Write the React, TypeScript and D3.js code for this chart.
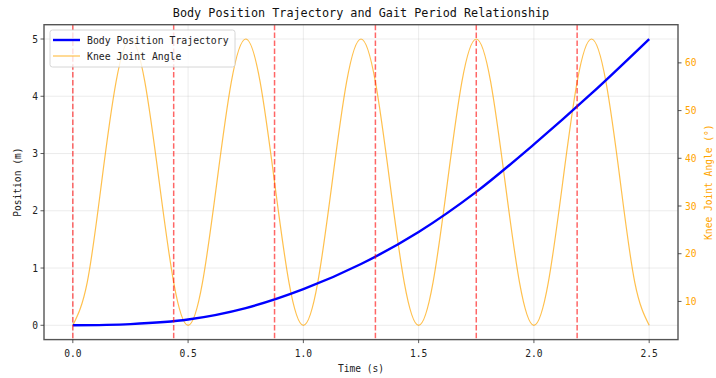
import React from "react";
import * as d3 from "d3";

// body position trajectory
const posTime = [0, 0.25, 0.5, 0.75, 1.0, 1.25, 1.5, 1.75, 2.0, 2.25, 2.5];
const position = [0, 0.02, 0.1, 0.3, 0.63, 1.07, 1.63, 2.33, 3.16, 4.05, 5.0];

// knee joint angle, sampled every 0.0625 s
const kneeAngle = [
  5, 14, 35, 56, 65, 56, 35, 14,
  5, 14, 35, 56, 65, 56, 35, 14,
  5, 14, 35, 56, 65, 56, 35, 14,
  5, 14, 35, 56, 65, 56, 35, 14,
  5, 14, 35, 56, 65, 56, 35, 14,
  5,
];
const kneeTime = kneeAngle.map((_, i) => i * 0.0625);

// gait period markers
const gaitTimes = [0, 0.4375, 0.875, 1.3125, 1.75, 2.1875];

const xTicks = [0, 0.5, 1.0, 1.5, 2.0, 2.5];
const yTicks = [0, 1, 2, 3, 4, 5];
const y2Ticks = [10, 20, 30, 40, 50, 60];

const FONT = "'DejaVu Sans Mono', monospace";
const W = 716;
const H = 378;
const left = 44;
const right = 678;
const top = 24.7;
const bottom = 339.6;

export default function App() {
  const x = d3.scaleLinear().domain([-0.125, 2.625]).range([left, right]);
  const y = d3.scaleLinear().domain([-0.25, 5.25]).range([bottom, top]);
  const y2 = d3.scaleLinear().domain([2, 68]).range([bottom, top]);

  const posLine = d3
    .line<number>()
    .x((_, i) => x(posTime[i]))
    .y((d) => y(d))
    .curve(d3.curveCatmullRom);

  const kneeLine = d3
    .line<number>()
    .x((_, i) => x(kneeTime[i]))
    .y((d) => y2(d))
    .curve(d3.curveNatural);

  return (
    <svg
      width={W}
      height={H}
      style={{ position: "absolute", left: 0, top: 0, background: "#fff" }}
      fontFamily={FONT}
    >
      {/* grid */}
      <g stroke="#b0b0b0" strokeOpacity={0.3} strokeWidth={0.8}>
        {xTicks.map((t) => (
          <line key={"gx" + t} x1={x(t)} x2={x(t)} y1={top} y2={bottom} />
        ))}
        {yTicks.map((t) => (
          <line key={"gy" + t} x1={left} x2={right} y1={y(t)} y2={y(t)} />
        ))}
      </g>

      {/* knee angle */}
      <path
        d={kneeLine(kneeAngle) ?? ""}
        fill="none"
        stroke="orange"
        strokeOpacity={0.7}
        strokeWidth={1.2}
      />

      {/* body position */}
      <path d={posLine(position) ?? ""} fill="none" stroke="blue" strokeWidth={2.4} />

      {/* gait period markers */}
      {gaitTimes.map((t) => (
        <line
          key={"g" + t}
          x1={x(t)}
          x2={x(t)}
          y1={top}
          y2={bottom}
          stroke="red"
          strokeOpacity={0.6}
          strokeWidth={1.5}
          strokeDasharray="5.5,2.4"
        />
      ))}

      {/* spines */}
      <rect
        x={left}
        y={top}
        width={right - left}
        height={bottom - top}
        fill="none"
        stroke="#555"
        strokeWidth={1.4}
      />

      {/* x axis */}
      {xTicks.map((t) => (
        <g key={"xt" + t}>
          <line x1={x(t)} x2={x(t)} y1={bottom} y2={bottom + 3.5} stroke="#333" strokeWidth={0.8} />
          <text x={x(t)} y={bottom + 17} textAnchor="middle" fontSize={9.6} fill="#222">
            {t.toFixed(1)}
          </text>
        </g>
      ))}
      <text x={(left + right) / 2} y={372} textAnchor="middle" fontSize={9.6} fill="#222">
        Time (s)
      </text>

      {/* left y axis */}
      {yTicks.map((t) => (
        <g key={"yt" + t}>
          <line x1={left - 3.5} x2={left} y1={y(t)} y2={y(t)} stroke="#333" strokeWidth={0.8} />
          <text x={left - 6} y={y(t) + 3.5} textAnchor="end" fontSize={9.6} fill="#222">
            {t}
          </text>
        </g>
      ))}
      <text
        transform={`translate(21,${(top + bottom) / 2}) rotate(-90)`}
        textAnchor="middle"
        fontSize={9.6}
        fill="#222"
      >
        Position (m)
      </text>

      {/* right y axis */}
      {y2Ticks.map((t) => (
        <g key={"y2t" + t}>
          <line x1={right} x2={right + 3.5} y1={y2(t)} y2={y2(t)} stroke="#333" strokeWidth={0.8} />
          <text x={right + 7} y={y2(t) + 3.5} textAnchor="start" fontSize={9.6} fill="orange">
            {t}
          </text>
        </g>
      ))}
      <text
        transform={`translate(712,${(top + bottom) / 2}) rotate(-90)`}
        textAnchor="middle"
        fontSize={9.6}
        fill="orange"
      >
        Knee Joint Angle (°)
      </text>

      {/* title */}
      <text x={(left + right) / 2} y={17} textAnchor="middle" fontSize={11.8} fill="#111">
        Body Position Trajectory and Gait Period Relationship
      </text>

      {/* legend */}
      <g>
        <rect
          x={50}
          y={30}
          width={185}
          height={37}
          rx={2.5}
          fill="#fff"
          fillOpacity={0.8}
          stroke="#ccc"
          strokeWidth={0.8}
        />
        <line x1={53} x2={80} y1={40} y2={40} stroke="blue" strokeWidth={2.4} />
        <text x={87} y={43.5} fontSize={9.8} fill="#222">
          Body Position Trajectory
        </text>
        <line x1={53} x2={80} y1={56} y2={56} stroke="orange" strokeOpacity={0.7} strokeWidth={1.2} />
        <text x={87} y={59.5} fontSize={9.8} fill="#222">
          Knee Joint Angle
        </text>
      </g>
    </svg>
  );
}
